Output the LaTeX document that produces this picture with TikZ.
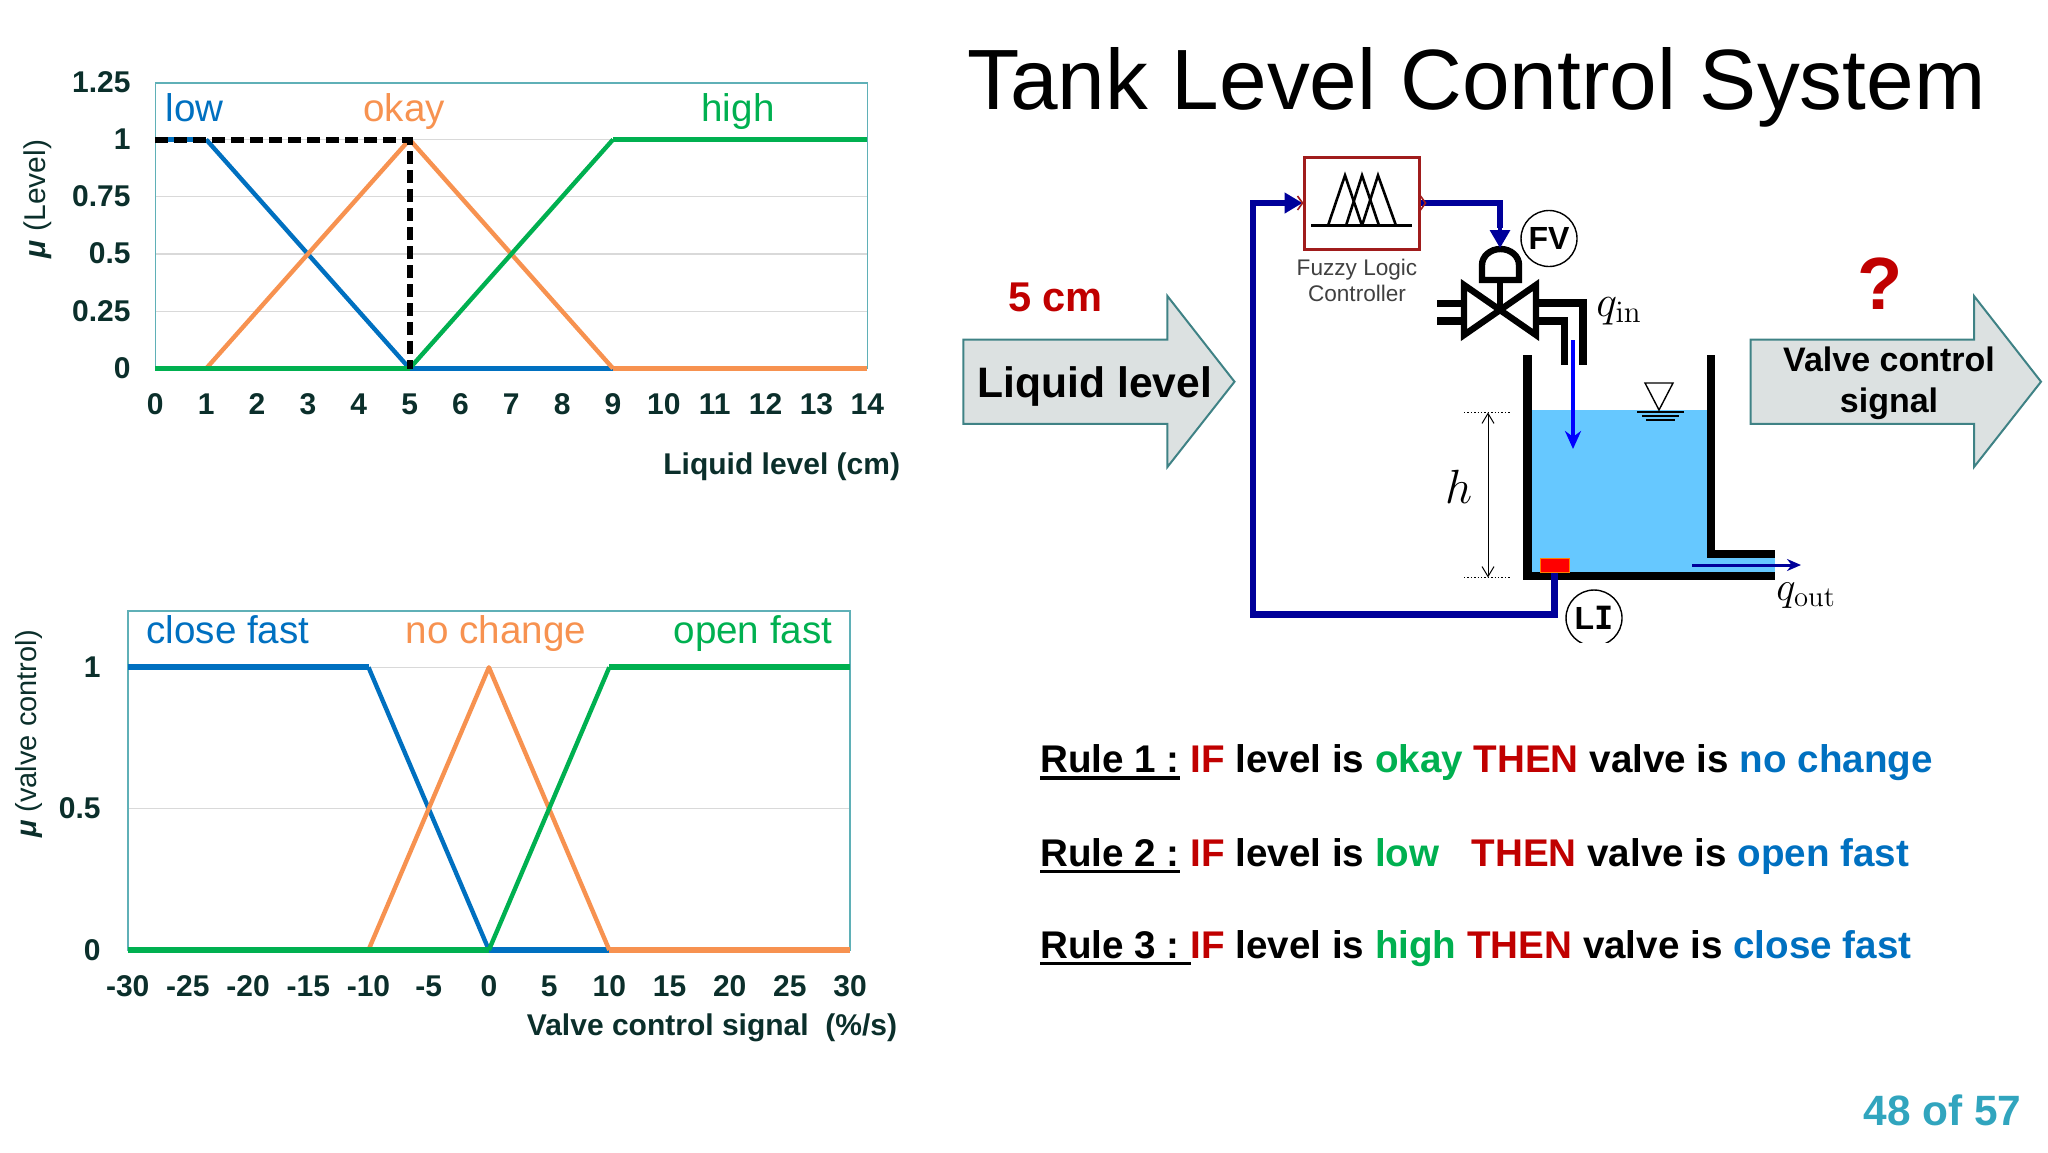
\documentclass[tikz,border=0pt]{standalone}
\usepackage[no-math]{fontspec}
\usepackage{fix-cm}
\setmainfont{Liberation Sans}
\setmonofont{DejaVu Sans Mono}
\usetikzlibrary{arrows.meta}
\definecolor{fuzzblue}{HTML}{0070C0}
\definecolor{fuzzorange}{HTML}{F79250}
\definecolor{fuzzgreen}{HTML}{00B050}
\definecolor{fuzzred}{HTML}{C00000}
\definecolor{chartink}{HTML}{0B2F2B}
\definecolor{chartframe}{HTML}{5FB0B7}
\definecolor{gridgray}{HTML}{D9D9D9}
\definecolor{signalblue}{HTML}{00009A}
\definecolor{waterblue}{HTML}{66C8FF}
\definecolor{arrowfill}{HTML}{DCE1E1}
\definecolor{arrowline}{HTML}{3F8285}
\definecolor{pageteal}{HTML}{31A5BE}
\definecolor{flcred}{HTML}{A01C1C}
\newcommand{\fsize}[1]{\fontsize{#1}{#1}\selectfont}
\newcommand{\rulehead}[1]{\setbox0\hbox{#1}\rlap{\rule[-3.6pt]{\wd0}{1.7pt}}\box0\relax}
\tikzset{
    lab/.style={inner sep=0,anchor=base},
    ticktext/.style={lab,text=chartink,font=\bfseries\fsize{15}},
    axistitle/.style={inner sep=0,rotate=90,text=chartink,font=\fsize{15}},
    setname/.style={lab,font=\fsize{19.3}},
    gridline/.style={gridgray,line width=0.7pt},
    member/.style={line width=2.2pt,line join=round},
    flat/.style={line width=2.9pt},
    bigarrow/.style={draw=arrowline,fill=arrowfill,line width=1pt},
    ruletext/.style={inner sep=0,anchor=base west,font=\bfseries\fsize{19.3}},
    wall/.style={line width=4.4pt,miter limit=10},
    pipe/.style={line width=3.6pt},
    signal/.style={signalblue,line width=3.2pt},
    tag/.style={circle,draw,inner sep=0,minimum size=28pt,line width=0.7pt},
    mfline/.style={line width=1.3pt}
}
\begin{document}
\begin{tikzpicture}[x=0.5pt,y=-0.5pt]
    \useasboundingbox (0,0) rectangle (2048,1152);

    % level chart
    \begin{scope}[shift={(155.3,368.5)},x=25.43pt,y=114.5pt]
        \foreach \val in {0.25,0.5,0.75,1}
            \draw[gridline] (0,\val) -- (14,\val);
        \draw[chartframe,line width=0.8pt] (0,0) rectangle (14,1.2467);
        \draw[fuzzblue,member] (1,1) -- (5,0);
        \draw[fuzzblue,flat] (0,1) -- (1,1);
        \draw[fuzzblue,flat] (5,0) -- (9,0);
        \draw[fuzzorange,member] (1,0) -- (5,1) -- (9,0);
        \draw[fuzzorange,flat] (9,0) -- (14,0);
        \draw[fuzzgreen,flat] (0,0) -- (5,0);
        \draw[fuzzgreen,member] (5,0) -- (9,1);
        \draw[fuzzgreen,flat] (9,1) -- (14,1);
        \draw[black,line width=3pt,dash pattern=on 6.5pt off 3pt] (0,1) -- (5,1) -- (5,0);
        \foreach \val in {0,...,14}
            \node[ticktext] (lx\val) at (\val,-0.2) {\val};
    \end{scope}
    \foreach \ypos/\lab in {82/1.25,139/1,196/0.75,253.5/0.5,311/0.25,368/0}
        \node[ticktext,anchor=east] (ly\lab) at (131,\ypos) {\lab};
    \node[axistitle] (levelaxis) at (38,199) {\textbf{\textit{μ}} (Level)};
    \node[ticktext] (leveltitle) at (781.7,474) {Liquid level (cm)};
    \node[setname,text=fuzzblue] (low) at (194.8,121) {low};
    \node[setname,text=fuzzorange] (okay) at (404,121) {okay};
    \node[setname,text=fuzzgreen] (high) at (738,121) {high};

    % valve chart
    \begin{scope}[shift={(127.7,950)},x=6.02pt,y=141.35pt]
        \foreach \val in {0.5,1}
            \draw[gridline] (-0,\val) -- (60,\val);
        \draw[chartframe,line width=0.8pt] (0,0) rectangle (60,1.2);
        \draw[fuzzblue,flat] (0,1) -- (20,1);
        \draw[fuzzblue,member] (20,1) -- (30,0);
        \draw[fuzzblue,flat] (30,0) -- (40,0);
        \draw[fuzzorange,member] (20,0) -- (30,1) -- (40,0);
        \draw[fuzzorange,flat] (40,0) -- (60,0);
        \draw[fuzzgreen,flat] (0,0) -- (30,0);
        \draw[fuzzgreen,member] (30,0) -- (40,1);
        \draw[fuzzgreen,flat] (40,1) -- (60,1);
        \foreach \val/\lab in {0/-30,5/-25,10/-20,15/-15,20/-10,25/-5,30/0,35/5,40/10,45/15,50/20,55/25,60/30}
            \node[ticktext] (vx\val) at (\val,-0.163) {\lab};
    \end{scope}
    \foreach \ypos/\lab in {667/1,808.6/0.5,950/0}
        \node[ticktext,anchor=east] (vy\lab) at (101,\ypos) {\lab};
    \node[axistitle,font=\fsize{14.5}] (valveaxis) at (29,734) {\textbf{\textit{μ}} (valve control)};
    \node[ticktext] (valvetitle) at (712,1035) {Valve control signal\ \ (\%/s)};
    \node[setname,text=fuzzblue] (closefast) at (228,643) {close fast};
    \node[setname,text=fuzzorange] (nochange) at (496,643) {no change};
    \node[setname,text=fuzzgreen] (openfast) at (753,643) {open fast};

    % title and arrows
    \node[inner sep=0,anchor=base west,font=\fsize{42.8}] (title) at (967,109) {Tank Level Control System};
    \draw[bigarrow] (963.4,339.5) -- (1167.4,339.5) -- (1167.4,296) -- (1234.5,381.7) -- (1167.4,467) -- (1167.4,423.8) -- (963.4,423.8) -- cycle;
    \draw[bigarrow] (1750.5,339.5) -- (1974,339.5) -- (1974,296) -- (2041,381.7) -- (1974,467) -- (1974,423.8) -- (1750.5,423.8) -- cycle;
    \node[lab,font=\bfseries\fsize{21.3}] (liquid) at (1095,397) {Liquid level};
    \node[lab,font=\bfseries\fsize{20.8},text=fuzzred] (fivecm) at (1055.5,311) {5 cm};
    \node[inner sep=0,align=center,font=\bfseries\fontsize{17}{20.4}\selectfont] (valvesig) at (1889,383) {Valve control\\signal};
    \node[lab,font=\bfseries\fsize{37},text=fuzzred] (what) at (1880,309) {?};

    % tank
    \fill[waterblue] (1527,410) rectangle (1711,576);
    \fill[waterblue] (1711,554) rectangle (1775,576);
    \draw[wall] (1527.5,355) -- (1527.5,576) -- (1775,576);
    \draw[wall] (1711,355) -- (1711,554) -- (1775,554);
    \node[draw=orange,fill=red,inner sep=0,minimum width=14.5pt,minimum height=7pt,line width=0.5pt] (sensor) at (1554.5,565) {};
    % level mark
    \draw[line width=0.7pt] (1645,383) -- (1673,383) -- (1659,410) -- cycle;
    \draw[line width=0.8pt] (1637,412) -- (1684,412) (1642,416) -- (1679,416) (1646,420) -- (1675,420);
    % height
    \coordinate (htop) at (1488,412.5);
    \coordinate (hbot) at (1488,577.5);
    \draw[densely dotted,line width=0.7pt] (1464,412.5) -- (1510,412.5) (1464,577.5) -- (1510,577.5);
    \draw[{Straight Barb[length=5pt,width=6pt]}-{Straight Barb[length=5pt,width=6pt]},line width=0.5pt] (htop) -- (hbot);
    \node[lab,font=\fsize{24}] (hlab) at (1459,503) {$h$};
    % valve
    \coordinate (pivot) at (1500,310);
    \draw[pipe] (1437,303.4) -- (1465,303.4) (1437,321) -- (1465,321);
    \draw[line width=3.2pt,miter limit=10,line join=miter] (pivot) -- (1464,285) -- (1464,335) -- cycle;
    \draw[line width=3.2pt,miter limit=10,line join=miter] (pivot) -- (1536,285) -- (1536,335) -- cycle;
    \draw[line width=3pt] (pivot) -- (1500,280);
    \draw[line width=3.2pt] (1482,280) -- (1519,280) -- (1519,265) arc[start angle=0,end angle=-180,x radius=18.5,y radius=16] -- cycle;
    \draw[pipe,miter limit=10] (1537,303) -- (1583,303) -- (1583,365);
    \draw[pipe,miter limit=10] (1537,321) -- (1564.5,321) -- (1564.5,365);
    \coordinate (flowtop) at (1573,340);
    \coordinate (flowend) at (1573,449);
    \draw[-{Stealth[length=9pt,width=8pt]},blue,line width=1.8pt] (flowtop) -- (flowend);
    \coordinate (outstart) at (1692,565);
    \coordinate (outend) at (1801,565);
    \draw[-{Stealth[length=7pt,width=6pt]},signalblue,line width=1.5pt] (outstart) -- (outend);
    \node[lab,font=\fsize{22}] (qin) at (1619,316) {$q_{\mathrm{in}}$};
    \node[lab,font=\fsize{20.5}] (qout) at (1806,600) {$q_{\mathrm{out}}$};

    % controller
    \node[draw=flcred,fill=white,line width=1.5pt,minimum width=57.5pt,minimum height=46pt,inner sep=0] (flc) at (1361.5,203) {};
    \draw[mfline] (1311,225.6) -- (1412,225.6);
    \draw[mfline] (1328,225.6) -- (1345,175.4) -- (1362,225.6);
    \draw[mfline] (1346,225.6) -- (1362,175.4) -- (1379,225.6);
    \draw[mfline] (1362,225.6) -- (1378,175.4) -- (1396,225.6);
    \node[inner sep=0,align=center,text=black!75,font=\fontsize{11.3}{13}\selectfont] (flctext) at (1357,280) {Fuzzy Logic\\Controller};
    \node[tag,font=\bfseries\fsize{16}] (fv) at (1549,238.5) {FV};
    \begin{scope}
        \clip (1550,580) rectangle (1640,642);
        \node[tag,font=\bfseries\fsize{16}] (li) at (1594,618) {L{\ttfamily I}};
    \end{scope}
    \coordinate (loopcorner) at (1253,614.6);
    \coordinate (domecap) at (1500,248);
    \coordinate (valvebend) at (1500,228);
    \draw[signal,-{Stealth[length=9pt,width=10pt,inset=0pt]}] (sensor.south) |- (loopcorner) |- (flc.west);
    \draw[signal] (flc.east) -| (valvebend);
    \draw[signalblue,line width=1.6pt,-{Stealth[length=9pt,width=10pt,inset=0pt]}] (valvebend) -- (domecap);
    \draw[flcred,line width=0.8pt] ([shift={(-5,-7)}]flc.west) -- (flc.west) -- ([shift={(-5,7)}]flc.west);
    \draw[flcred,line width=0.8pt] ([shift={(0,-7)}]flc.east) -- ([shift={(5,0)}]flc.east) -- ([shift={(0,7)}]flc.east);

    % rules
    \node[ruletext] (rule1) at (1040,772.5) {\rulehead{Rule 1 :} \textcolor{fuzzred}{IF} level is \textcolor{fuzzgreen}{okay} \textcolor{fuzzred}{THEN} valve is \textcolor{fuzzblue}{no change}};
    \node[ruletext] (rule2) at (1040,866) {\rulehead{Rule 2 :} \textcolor{fuzzred}{IF} level is \textcolor{fuzzgreen}{low}\ \ \ \textcolor{fuzzred}{THEN} valve is \textcolor{fuzzblue}{open fast}};
    \node[ruletext] (rule3) at (1040,958) {\rulehead{Rule 3 :\ }\textcolor{fuzzred}{IF} level is \textcolor{fuzzgreen}{high} \textcolor{fuzzred}{THEN} valve is \textcolor{fuzzblue}{close fast}};

    \node[lab,font=\bfseries\fsize{21.2},text=pageteal] (pagenum) at (1942.6,1125) {48 of 57};
\end{tikzpicture}
\end{document}
